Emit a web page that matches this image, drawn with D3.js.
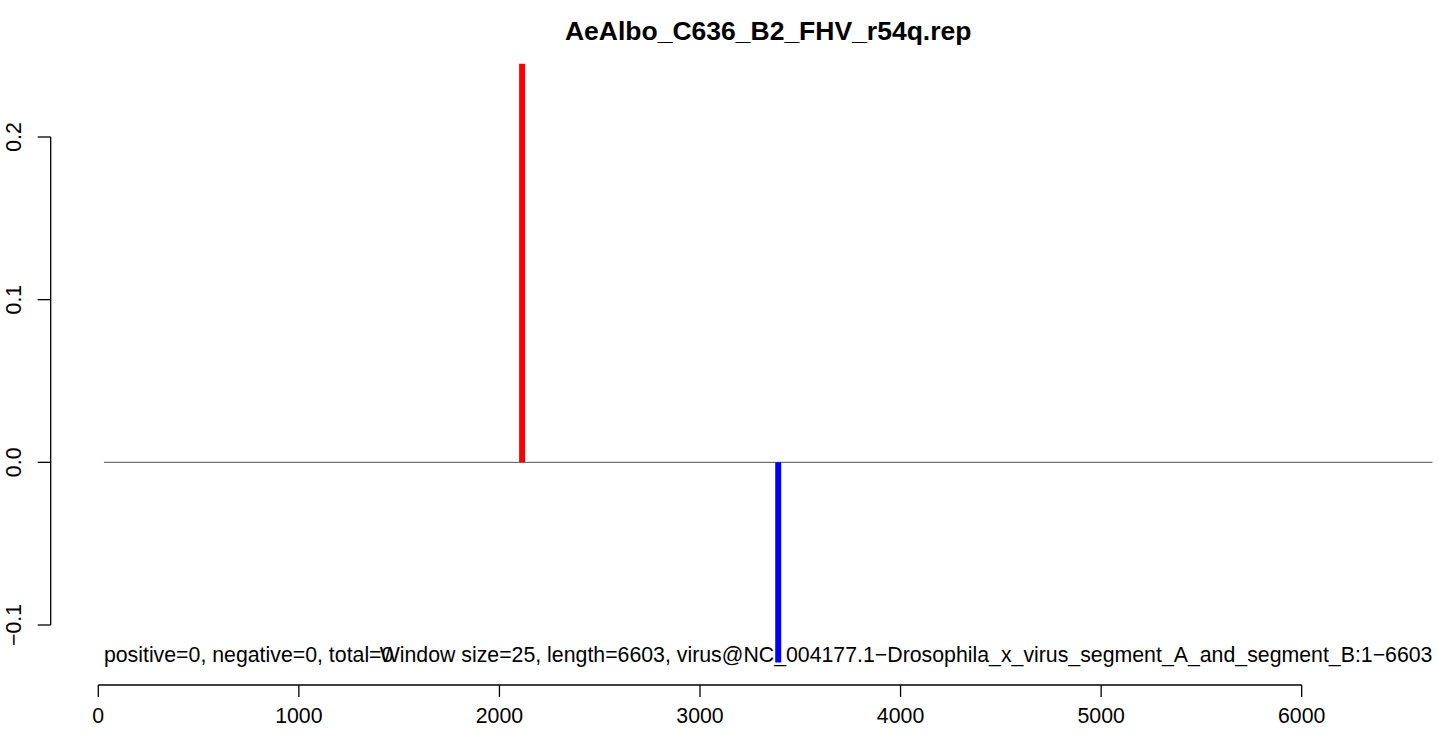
<!DOCTYPE html>
<html>
<head>
<meta charset="utf-8">
<script src="https://cdn.jsdelivr.net/npm/d3@7"></script>
<style>
  body { margin: 0; background: #fff; }
  svg text { font-family: "Liberation Sans", Arial, Helvetica, sans-serif; fill: #000; }
</style>
</head>
<body>
<div id="chart"></div>
<script>
// values
const chartTitle = "AeAlbo_C636_B2_FHV_r54q.rep";
const positions = [2113, 3390];          // genome position of each spike
const values = [0.245, -0.123];          // signed height of each spike
const xTicks = [0, 1000, 2000, 3000, 4000, 5000, 6000];
const yTicks = [-0.1, 0.0, 0.1, 0.2];
const yTickLabels = ["\u22120.1", "0.0", "0.1", "0.2"];
const baseline = [28, 6652];              // start / end of the zero line
const statsLabel = "positive=0, negative=0, total=0";
const infoLabel = "Window size=25, length=6603, virus@NC_004177.1\u2212Drosophila_x_virus_segment_A_and_segment_B:1\u22126603";

const W = 1439, H = 736;
const fs = 21.3; // base text size
const svg = d3.select("#chart").append("svg").attr("width", W).attr("height", H);

const x = d3.scaleLinear().domain([0, 6000]).range([98.3, 1301.7]);
const y = d3.scaleLinear().domain([-0.1, 0.2]).range([625, 137]);

// title
svg.append("text").attr("x", (x(baseline[0]) + x(baseline[1])) / 2).attr("y", 40)
  .attr("text-anchor", "middle").attr("font-weight", "bold").attr("font-size", 26.5)
  .text(chartTitle);

// y axis (R style: line only spans the ticks, labels rotated)
const yAxis = svg.append("g").attr("transform", "translate(50.7,0)");
yAxis.append("line").attr("x1", 0).attr("x2", 0).attr("y1", y(d3.min(yTicks))).attr("y2", y(d3.max(yTicks)))
  .attr("stroke", "#000").attr("stroke-width", 1.3);
yAxis.selectAll(".tick").data(yTicks).enter().append("line")
  .attr("x1", -13).attr("x2", 0).attr("y1", d => y(d)).attr("y2", d => y(d))
  .attr("stroke", "#000").attr("stroke-width", 1.3);
yAxis.selectAll(".lab").data(yTicks).enter().append("text")
  .attr("transform", d => "translate(-29.8," + y(d) + ") rotate(-90)")
  .attr("text-anchor", "middle").attr("font-size", fs)
  .text((d, i) => yTickLabels[i]);

// x axis
const xAxis = svg.append("g").attr("transform", "translate(0,685)");
xAxis.append("line").attr("x1", x(d3.min(xTicks))).attr("x2", x(d3.max(xTicks))).attr("y1", 0).attr("y2", 0)
  .attr("stroke", "#000").attr("stroke-width", 1.3);
xAxis.selectAll(".tick").data(xTicks).enter().append("line")
  .attr("x1", d => x(d)).attr("x2", d => x(d)).attr("y1", 0).attr("y2", 12)
  .attr("stroke", "#000").attr("stroke-width", 1.3);
xAxis.selectAll(".lab").data(xTicks).enter().append("text")
  .attr("x", d => x(d)).attr("y", 38).attr("text-anchor", "middle").attr("font-size", fs)
  .text(d => d);

// zero line
svg.append("line").attr("x1", x(baseline[0])).attr("x2", x(baseline[1])).attr("y1", y(0)).attr("y2", y(0))
  .attr("stroke", "#555").attr("stroke-width", 1);

// bottom annotations (they overlap in the original)
svg.append("text").attr("x", x(baseline[0])).attr("y", 662).attr("font-size", fs).text(statsLabel);
svg.append("text").attr("x", x(baseline[1])).attr("y", 662).attr("text-anchor", "end").attr("font-size", fs).text(infoLabel);

// spikes
svg.selectAll(".spike").data(positions).enter().append("line")
  .attr("x1", d => x(d)).attr("x2", d => x(d))
  .attr("y1", y(0)).attr("y2", (d, i) => y(values[i]))
  .attr("stroke", (d, i) => values[i] > 0 ? "#ff0000" : "#0000ff")
  .attr("stroke-width", 6);
</script>
</body>
</html>
